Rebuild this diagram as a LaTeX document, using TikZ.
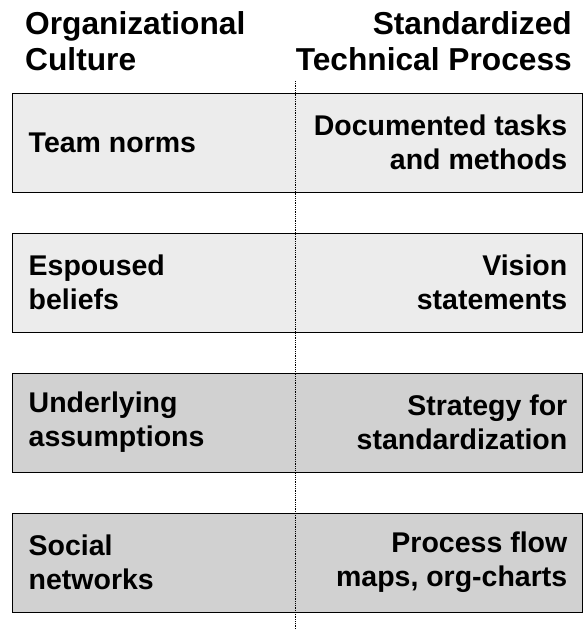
\documentclass[tikz,border=0pt]{standalone}
\usepackage{fontspec}
\setmainfont{Liberation Sans}
\usepackage{xcolor}
\usepackage{tikz}
\usetikzlibrary{positioning}

\definecolor{lightrow}{gray}{0.925}
\definecolor{darkrow}{gray}{0.82}

\begin{document}
\begin{tikzpicture}[
  x=1pt, y=-1pt,
  head/.style={inner sep=0pt, font=\bfseries\fontsize{31.7}{36}\selectfont},
  rowbox/.style={draw=black, line width=1pt, minimum width=570pt, minimum height=99pt, inner sep=0pt},
  light/.style={rowbox, fill=lightrow},
  dark/.style={rowbox, fill=darkrow},
  txt/.style={inner sep=0pt, font=\bfseries\fontsize{28.5}{34}\selectfont},
  ltxt/.style={txt, align=left, anchor=west},
  rtxt/.style={txt, align=right, anchor=east},
  divider/.style={densely dotted, line width=0.8pt}
]
\useasboundingbox (0,0) rectangle (587,630);

% column headings
\node[head, anchor=north west, align=left] (culture) at (25,11) {Organizational\\Culture};
\node[head, anchor=north east, align=right] (process) at (572,11) {Standardized\\Technical Process};

% rows
\node[light] (norms) at (297,142.5) {};
\node[light] (beliefs) at (297,282.5) {};
\node[dark] (assume) at (297,422.5) {};
\node[dark] (networks) at (297,562.5) {};

\node[ltxt, right=17pt of norms.west] (normsL) {Team norms};
\node[rtxt, left=15pt of norms.east] (normsR) {Documented tasks\\and methods};

\node[ltxt, right=17pt of beliefs.west] (beliefsL) {Espoused\\beliefs};
\node[rtxt, left=15pt of beliefs.east] (beliefsR) {Vision\\statements};

\node[ltxt, right=17pt of assume.west] (assumeL) {Underlying\\assumptions};
\node[rtxt, left=15pt of assume.east] (assumeR) {Strategy for\\standardization};

\node[ltxt, right=17pt of networks.west] (networksL) {Social\\networks};
\node[rtxt, left=15pt of networks.east] (networksR) {Process flow\\maps, org-charts};

% dividing line
\coordinate (divtop) at (295,81);
\coordinate (divbot) at (295,629);
\draw[divider] (divtop) -- (divbot);

\end{tikzpicture}
\end{document}
